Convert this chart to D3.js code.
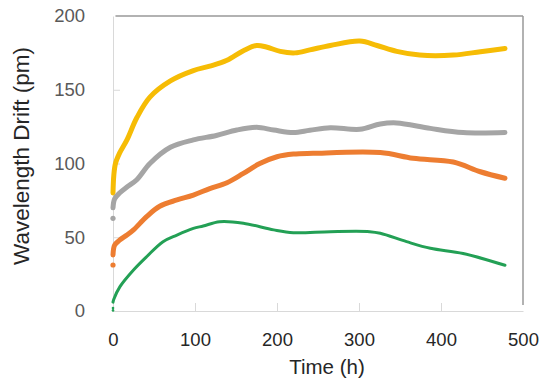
<!DOCTYPE html>
<html>
<head>
<meta charset="utf-8">
<script src="https://cdn.jsdelivr.net/npm/d3@7"></script>
<style>
  body { margin: 0; background: #fff; }
  text { font-family: Arial, "Liberation Sans", sans-serif; }
</style>
</head>
<body>
<div id="chart"></div>
<script>
/* CONSTANTS */
const width = 550,
  height = 390,
  margin = { top: 16, right: 27, bottom: 79, left: 113 };

/* DATA */
const xTicks = [0, 100, 200, 300, 400, 500];
const yTicks = [0, 50, 100, 150, 200];

const yellowT = [0, 1, 3, 8, 17, 29, 45, 70, 98, 118, 139, 159, 175, 187, 204, 222, 240, 265, 301, 322, 346, 374, 415, 448, 478];
const yellowV = [80, 92, 100, 107, 116, 131, 145, 156, 163, 166, 170, 176.5, 180, 179, 176, 175, 177, 180, 183, 180, 176, 173.5, 173.5, 175.8, 178];

const grayT = [0, 2, 8, 17, 29, 45, 70, 98, 126, 151, 175, 196, 220, 240, 265, 301, 326, 346, 387, 427, 478];
const grayV = [70, 76, 80, 84, 89, 100, 111, 116, 119, 122.7, 124.5, 122.7, 121, 122.5, 124.3, 123.2, 126.8, 127.5, 123.8, 121, 121];

const orangeT = [0, 2, 8, 17, 25, 41, 57, 78, 98, 118, 139, 159, 179, 200, 220, 244, 326, 366, 415, 448, 478];
const orangeV = [38, 44.7, 48, 51.5, 55, 64, 71, 75.3, 78.6, 83, 87, 93.3, 100, 104.6, 106.4, 106.9, 107.4, 103.5, 101, 94.4, 90];

const greenT = [0, 1, 8.5, 25, 41, 61, 78, 98, 110, 130, 159, 196, 220, 265, 313, 326, 358, 387, 427, 478];
const greenV = [6, 8, 16.5, 27.8, 36.8, 47, 51.5, 56, 57.6, 60.5, 59.5, 55, 53.1, 53.8, 53.8, 52.7, 47, 42.5, 39, 31];

// isolated first readings at t = 0
const startDotT = [0, 0, 0, 0];
const startDotV = [62.8, 31.2, 2, 0.4];
const startDotColor = ["#a5a5a5", "#ed7d31", "#23a055", "#23a055"];

const series = [
  { name: "yellow", t: yellowT, v: yellowV, color: "#f6bc05", w: 5 },
  { name: "gray", t: grayT, v: grayV, color: "#a5a5a5", w: 5 },
  { name: "orange", t: orangeT, v: orangeV, color: "#ed7d31", w: 5 },
  { name: "green", t: greenT, v: greenV, color: "#23a055", w: 3 }
];

/* SCALES */
const xScale = d3.scaleLinear()
  .domain([0, 500])
  .range([margin.left, width - margin.right]);

const yScale = d3.scaleLinear()
  .domain([0, 200])
  .range([height - margin.bottom, margin.top]);

/* SVG */
const svg = d3.select("#chart")
  .append("svg")
  .attr("width", width)
  .attr("height", height);

// frame: darker top and right edges
svg.append("line")
  .attr("x1", xScale(3)).attr("x2", xScale(500))
  .attr("y1", yScale(200)).attr("y2", yScale(200))
  .attr("stroke", "#999").attr("stroke-width", 1.3);
svg.append("line")
  .attr("x1", xScale(500)).attr("x2", xScale(500))
  .attr("y1", yScale(200)).attr("y2", yScale(4))
  .attr("stroke", "#999").attr("stroke-width", 1.5);

// AXES
const xAxis = d3.axisBottom(xScale)
  .tickValues(xTicks)
  .tickSizeInner(-8)
  .tickSizeOuter(0)
  .tickPadding(22);

const yAxis = d3.axisLeft(yScale)
  .tickValues(yTicks)
  .tickSizeInner(-7)
  .tickSizeOuter(0)
  .tickPadding(28);

const gx = svg.append("g")
  .attr("class", "axis x-axis")
  .attr("transform", `translate(0,${height - margin.bottom})`)
  .call(xAxis);
gx.select(".domain").attr("stroke", "#d9d9d9");
gx.selectAll(".tick line").attr("stroke", "#d9d9d9")
  .attr("display", d => (d === 0 || d === 500) ? "none" : null);
gx.selectAll(".tick text")
  .attr("font-size", 18.5)
  .attr("fill", "#262626")
  .attr("font-family", "Arial, 'Liberation Sans', sans-serif");

const gy = svg.append("g")
  .attr("class", "axis y-axis")
  .attr("transform", `translate(${margin.left},0)`)
  .call(yAxis);
gy.select(".domain").attr("stroke", "#d9d9d9");
gy.selectAll(".tick line").attr("stroke", "#d9d9d9")
  .attr("display", d => (d === 0 || d === 200) ? "none" : null);
gy.selectAll(".tick text")
  .attr("font-size", 18.5)
  .attr("fill", "#595959")
  .attr("font-family", "Arial, 'Liberation Sans', sans-serif");

// axis titles
svg.append("text")
  .attr("x", 327)
  .attr("y", 374)
  .attr("text-anchor", "middle")
  .attr("font-size", 20.5)
  .attr("fill", "#262626")
  .text("Time (h)");

svg.append("text")
  .attr("transform", "translate(29,156) rotate(-90)")
  .attr("text-anchor", "middle")
  .attr("font-size", 22.5)
  .attr("fill", "#262626")
  .text("Wavelength Drift (pm)");

/* LINES */
const line = d3.line()
  .x(d => xScale(d[0]))
  .y(d => yScale(d[1]))
  .curve(d3.curveCatmullRom.alpha(0.5));

svg.selectAll("path.series")
  .data(series)
  .join("path")
  .attr("class", "series")
  .attr("fill", "none")
  .attr("stroke", d => d.color)
  .attr("stroke-width", d => d.w)
  .attr("stroke-linecap", "round")
  .attr("stroke-linejoin", "round")
  .attr("d", d => line(d.t.map((t, i) => [t, d.v[i]])));

svg.selectAll("circle.start")
  .data(startDotV)
  .join("circle")
  .attr("class", "start")
  .attr("cx", (d, i) => xScale(startDotT[i]))
  .attr("cy", d => yScale(d))
  .attr("r", (d, i) => i < 2 ? 2.6 : 1.3)
  .attr("fill", (d, i) => startDotColor[i]);
</script>
</body>
</html>
